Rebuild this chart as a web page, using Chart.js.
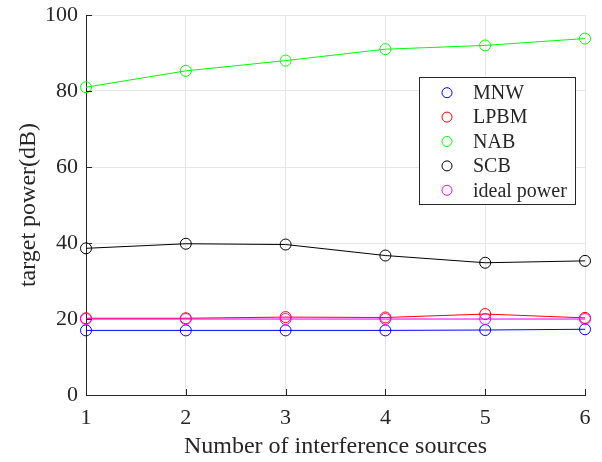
<!DOCTYPE html>
<html>
<head>
<meta charset="utf-8">
<script src="https://cdn.jsdelivr.net/npm/chart.js@4.4.1/dist/chart.umd.min.js"></script>
<style>
  html, body { margin: 0; padding: 0; background: #ffffff; }
  #wrap { width: 602px; height: 462px; }
</style>
</head>
<body>
<div id="wrap"><canvas id="c" width="602" height="462"></canvas></div>
<script>
// data
const sources = [1, 2, 3, 4, 5, 6];
const mnw = [17.0, 17.0, 17.0, 17.0, 17.1, 17.3];
const lpbm = [20.2, 20.2, 20.5, 20.4, 21.3, 20.3];
const nab = [81.0, 85.3, 88.0, 91.0, 92.0, 93.8];
const scb = [38.6, 39.8, 39.6, 36.7, 34.8, 35.3];
const ideal = [20.0, 20.0, 20.0, 20.0, 20.0, 20.0];
const yTicks = [0, 20, 40, 60, 80, 100];

const seriesNames = ['MNW', 'LPBM', 'NAB', 'SCB', 'ideal power'];
const seriesValues = [mnw, lpbm, nab, scb, ideal];
const seriesColors = ['#0000ff', '#ff0000', '#00ff00', '#000000', '#ff00ff'];

const font = 'Liberation Serif';
const axisColor = '#262626';

const datasets = seriesNames.map((name, i) => ({
    label: name,
    data: seriesValues[i],
    borderColor: seriesColors[i],
    backgroundColor: 'rgba(0,0,0,0)',
    borderWidth: 1,
    pointStyle: 'circle',
    pointRadius: 5.5,
    pointBorderWidth: 1,
    pointBorderColor: seriesColors[i],
    pointBackgroundColor: 'rgba(0,0,0,0)',
    tension: 0,
    order: seriesNames.length - i   // later series drawn on top
}));

// little inward ticks like matlab
const innerTicks = {
    id: 'innerTicks',
    afterDatasetsDraw(chart) {
        const ctx = chart.ctx;
        const x = chart.scales.x, y = chart.scales.y;
        const a = chart.chartArea;
        ctx.save();
        ctx.strokeStyle = axisColor;
        ctx.lineWidth = 1;
        ctx.beginPath();
        yTicks.forEach(v => {
            const py = Math.round(y.getPixelForValue(v)) + 0.5;
            ctx.moveTo(a.left, py);
            ctx.lineTo(a.left + 6, py);
        });
        sources.forEach((s, i) => {
            const px = Math.round(x.getPixelForValue(i)) + 0.5;
            ctx.moveTo(px, a.bottom);
            ctx.lineTo(px, a.bottom - 6);
        });
        ctx.stroke();
        ctx.restore();
    }
};

// legend box inside the axes, top right
const boxLegend = {
    id: 'boxLegend',
    afterDraw(chart) {
        const ctx = chart.ctx;
        const a = chart.chartArea;
        const left = a.right - 166, top = a.top + 62;
        const w = 156, h = 127, rowH = 24.4;
        ctx.save();
        ctx.fillStyle = '#ffffff';
        ctx.fillRect(left, top, w, h);
        ctx.strokeStyle = axisColor;
        ctx.lineWidth = 1;
        ctx.strokeRect(left + 0.5, top + 0.5, w, h);
        ctx.font = '20px "' + font + '"';
        ctx.textBaseline = 'middle';
        ctx.textAlign = 'left';
        chart.data.datasets.forEach((ds, i) => {
            const cy = top + 15.7 + i * rowH;
            ctx.beginPath();
            ctx.arc(left + 28, cy, 5, 0, Math.PI * 2);
            ctx.strokeStyle = ds.borderColor;
            ctx.stroke();
            ctx.fillStyle = axisColor;
            ctx.fillText(ds.label, left + 54, cy + 1);
        });
        ctx.restore();
    }
};

new Chart(document.getElementById('c'), {
    type: 'line',
    data: { labels: sources, datasets },
    plugins: [innerTicks, boxLegend],
    options: {
        responsive: false,
        animation: false,
        layout: { padding: { top: 15, right: 17, left: 0, bottom: 0 } },
        plugins: { legend: { display: false }, tooltip: { enabled: false } },
        scales: {
            x: {
                type: 'category',
                offset: false,
                grid: { color: '#e6e6e6', drawTicks: false },
                border: { color: axisColor, width: 1 },
                ticks: { color: axisColor, font: { family: font, size: 22 }, padding: 10, maxRotation: 0 },
                title: { display: true, text: 'Number of interference sources', color: axisColor,
                         font: { family: font, size: 24 }, padding: { top: 0, bottom: 1 } },
                afterFit(s) { s.height = 67; s.paddingLeft = 0; s.paddingRight = 0; }
            },
            y: {
                min: 0, max: 100,
                afterBuildTicks(s) { s.ticks = yTicks.map(v => ({ value: v })); },
                grid: { color: '#e6e6e6', drawTicks: false },
                border: { color: axisColor, width: 1 },
                ticks: { color: axisColor, font: { family: font, size: 22 }, padding: 8 },
                title: { display: true, text: 'target power(dB)', color: axisColor,
                         font: { family: font, size: 24 }, padding: { top: 14, bottom: 0 } },
                afterFit(s) { s.width = 86; s.paddingTop = 0; s.paddingBottom = 0; }
            }
        }
    }
});
</script>
</body>
</html>
